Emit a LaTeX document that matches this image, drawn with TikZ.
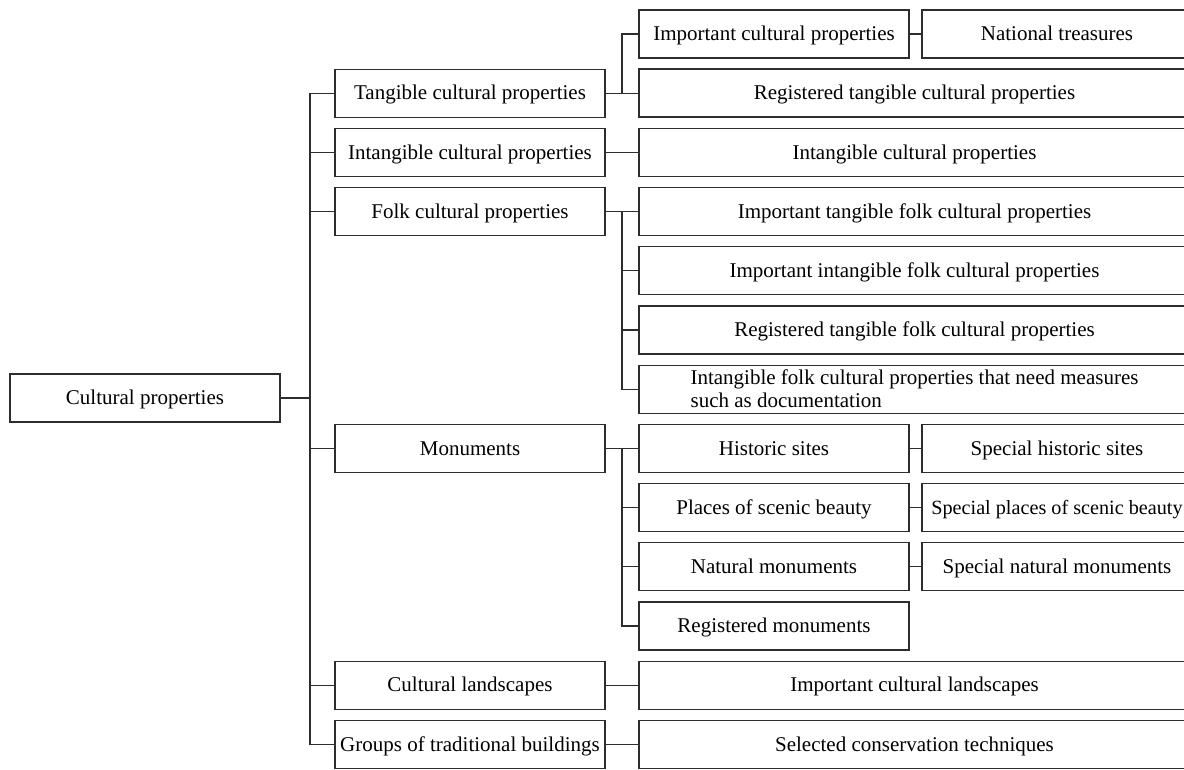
\documentclass[tikz,border=0pt]{standalone}
\usepackage{fontspec}
\setmainfont{Liberation Serif}
\usetikzlibrary{positioning,calc}
\definecolor{linegray}{RGB}{45,45,45}

\begin{document}
\begin{tikzpicture}[x=1pt,y=1pt,
  box/.style={draw=linegray, line width=1.1pt, align=center, minimum width=270pt, minimum height=48pt, inner sep=2pt, outer sep=0pt, text height=16pt, text depth=2.5pt, font=\fontsize{21}{23}\selectfont},
  wide/.style={box, minimum width=551pt},
  link/.style={draw=linegray, line width=1.1pt}
]
\useasboundingbox (0,0) rectangle (1184,-769);
\node[box] (root) at (145,-398) {Cultural properties};
\node[box] (tang) at (470,-93.2) {Tangible cultural properties};
\node[box, below=11.2pt of tang] (intang) {Intangible cultural properties};
\node[box, below=11.2pt of intang] (folk) {Folk cultural properties};
\node[box, below=188.8pt of folk] (monu) {Monuments};
\node[box, below=188.8pt of monu] (land) {Cultural landscapes};
\node[box, below=11.2pt of land] (grp) {Groups of traditional buildings};

\node[wide, line width=2.4pt, right=34pt of tang] (reg) {Registered tangible cultural properties};
\node[box, above=11.2pt of reg.north west, anchor=south west] (imp) {Important cultural properties};
\node[box, right=13pt of imp] (natl) {National treasures};
\node[wide, right=34pt of intang] (intc) {Intangible cultural properties};
\node[wide, right=34pt of folk] (tfolk) {Important tangible folk cultural properties};
\node[wide, below=11.2pt of tfolk] (ifolk) {Important intangible folk cultural properties};
\node[wide, below=11.2pt of ifolk] (rfolk) {Registered tangible folk cultural properties};
\node[wide, below=11.2pt of rfolk, align=left, text height=, text depth=] (mfolk) {Intangible folk cultural properties that need measures\\such as documentation};
\node[box, right=34pt of monu] (hist) {Historic sites};
\node[box, below=11.2pt of hist] (scen) {Places of scenic beauty};
\node[box, below=11.2pt of scen] (nat) {Natural monuments};
\node[box, below=11.2pt of nat] (regmon) {Registered monuments};
\node[box, right=13pt of hist] (shist) {Special historic sites};
\node[box, right=13pt of scen, font=\fontsize{20.2}{23}\selectfont, inner sep=0pt] (sscen) {Special places of scenic beauty};
\node[box, right=13pt of nat] (snat) {Special natural monuments};
\node[wide, right=34pt of land] (lscape) {Important cultural landscapes};
\node[wide, right=34pt of grp] (tech) {Selected conservation techniques};

\coordinate (trk) at ($(root.east)+(30,0)$);
\draw[link] (root.east) -- (trk);
\draw[link] (tang.west) -| (trk) |- (grp.west);
\foreach \n in {intang,folk,monu,land}
  \draw[link] (trk |- \n.west) -- (\n.west);

\coordinate (tk) at ($(tang.east)!0.5!(reg.west)$);
\draw[link] (tang.east) -- (reg.west);
\draw[link] (tk) |- (imp.west);
\draw[link] (imp.east) -- (natl.west);
\draw[link] (intang.east) -- (intc.west);

\coordinate (fk) at ($(folk.east)!0.5!(tfolk.west)$);
\draw[link] (folk.east) -- (tfolk.west);
\draw[link] (fk) |- (mfolk.west);
\foreach \n in {ifolk,rfolk}
  \draw[link] (fk |- \n.west) -- (\n.west);

\coordinate (mk) at ($(monu.east)!0.5!(hist.west)$);
\draw[link] (monu.east) -- (hist.west);
\draw[link] (mk) |- (regmon.west);
\foreach \n in {scen,nat}
  \draw[link] (mk |- \n.west) -- (\n.west);
\draw[link] (hist.east) -- (shist.west);
\draw[link] (scen.east) -- (sscen.west);
\draw[link] (nat.east) -- (snat.west);

\draw[link] (land.east) -- (lscape.west);
\draw[link] (grp.east) -- (tech.west);
\end{tikzpicture}
\end{document}
